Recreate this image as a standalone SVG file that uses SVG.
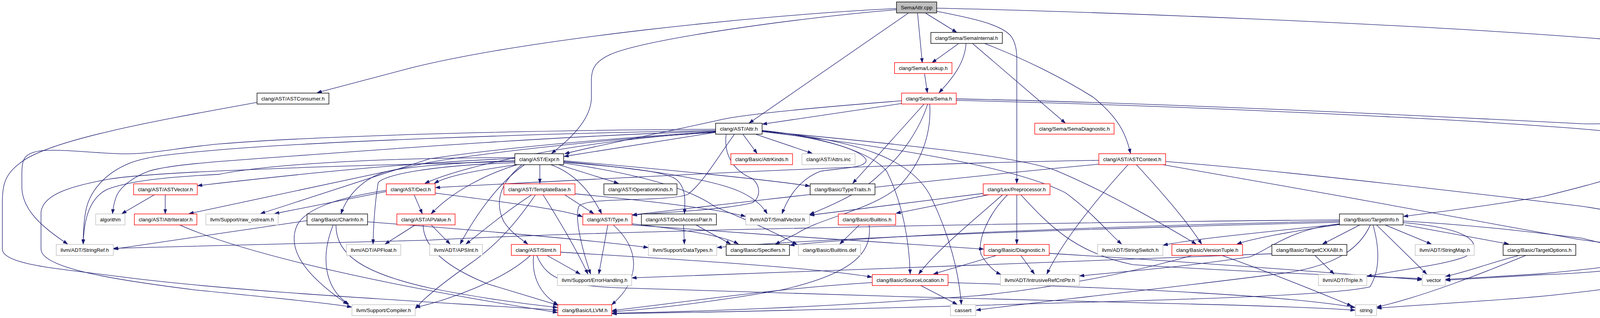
<svg xmlns="http://www.w3.org/2000/svg" width="4501" height="813" viewBox="0 0 4501 813">
<defs>
<marker id="a" markerWidth="12" markerHeight="9" refX="11.5" refY="4.5" orient="auto" markerUnits="userSpaceOnUse"><path d="M0,0.5 L11.5,4.5 L0,8.5 z" fill="#191970" stroke="#191970" stroke-width="1"/></marker>
</defs>
<style>
.bg{fill:#ffffff}
rect{stroke-width:1.4}
.k{fill:#ffffff;stroke:#000000}
.r{fill:#ffffff;stroke:#ff0000}
.g{fill:#ffffff;stroke:#bfbfbf}
.root{fill:#bfbfbf;stroke:#000000}
text{font-family:"Liberation Sans",Arial,sans-serif;font-size:13.5px;fill:#000000;text-anchor:middle}
#edges path{fill:none;stroke:#191970;stroke-width:1.3;marker-end:url(#a)}
</style>
<rect class="bg" x="0" y="0" width="4501" height="813"/>
<g id="edges" transform="scale(1,0.995)">
<path d="M2295,22 C1950,38 1350,100 1050,175 L812,238"/>
<path d="M2295,25 C2050,45 1650,100 1560,141 C1525,158 1514,175 1514,205 L1514,250 C1514,300 1470,350 1412,394"/>
<path d="M2325,34 L1918,316"/>
<path d="M2349,34 L2361,161"/>
<path d="M2370,34 L2449,83"/>
<path d="M2398,29 C2480,45 2565,62 2589,94 C2600,110 2603,130 2603,150 L2603,471"/>
<path d="M2398,21 C2800,30 3600,60 4100,100 C4300,120 4496,150 4496,190 L4496,255 C4496,330 4300,420 3950,505 C3800,530 3660,548 3593,556"/>
<path d="M2454,112 L2386,161"/>
<path d="M2473,112 C2470,160 2440,200 2404,238"/>
<path d="M2490,112 L2727,316"/>
<path d="M2521,112 C2620,150 2720,200 2799,250 C2860,300 2882,340 2894,394"/>
<path d="M2367,190 L2374,238"/>
<path d="M2308,266 L1952,319"/>
<path d="M2308,259 C2000,283 1870,300 1835,310 C1700,340 1500,380 1446,395"/>
<path d="M1832,340 L1444,402"/>
<path d="M2366,267 L2183,471"/>
<path d="M2375,267 C2355,330 2310,400 2250,450 C2200,500 2110,535 2073,551"/>
<path d="M2380,267 C2385,340 2360,420 2300,480 C2230,540 2100,560 2040,600 C2010,615 1995,622 1985,628"/>
<path d="M2448,254 C3000,265 3700,300 4050,318 C4200,322 4350,290 4420,330 C4445,350 4445,380 4445,406 L4445,646 C4445,700 4200,735 3950,761 C3800,775 3600,785 3525,792"/>
<path d="M2448,258 C3000,270 3700,305 3950,324 C4200,340 4394,370 4394,404 L4394,573 C4394,650 4200,680 3950,703 C3850,710 3750,715 3701,718"/>
<path d="M658,263 C400,310 120,360 50,420 C10,450 6,480 6,520 L6,640 C6,680 150,690 300,710 C600,750 1100,775 1427,797"/>
<path d="M1832,332 C1300,335 800,350 560,370 C450,380 380,398 307,395 C220,392 150,382 100,388 C60,395 56,410 56,450 L56,480 C56,540 110,585 173,627"/>
<path d="M1318,405 C1000,405 700,420 560,448 C420,455 330,465 273,487 C230,510 215,560 213,627"/>
<path d="M1832,335 C1300,345 800,365 560,385 C450,395 380,400 330,420 C270,445 230,490 220,540 C214,570 213,600 213,627"/>
<path d="M1832,337 C1400,350 900,390 560,415 C480,422 420,428 380,440 C340,455 310,480 300,500 C293,515 290,530 288,549"/>
<path d="M1318,407 C1000,420 700,455 506,477"/>
<path d="M1832,340 C1500,360 1200,400 1100,417 L484,549"/>
<path d="M1832,338 C1500,360 1250,385 1100,408 L667,549"/>
<path d="M1318,413 C1150,418 1030,430 982,443 C930,460 890,500 873,549"/>
<path d="M1320,418 C1100,425 980,450 968,470 C960,520 956,580 955,627"/>
<path d="M1318,415 C900,425 400,440 281,460 C180,478 110,500 105,545 L105,640 C105,690 300,720 500,745 C700,765 850,780 900,789"/>
<path d="M1832,339 C1500,360 1200,420 1088,471"/>
<path d="M1325,423 C1200,440 1140,455 1112,471"/>
<path d="M1382,423 L1382,471"/>
<path d="M1410,423 C1470,445 1510,490 1540,549"/>
<path d="M1430,423 L1583,471"/>
<path d="M1443,417 C1600,430 1700,440 1730,460 C1755,480 1755,510 1752,549"/>
<path d="M1336,423 C1280,470 1265,520 1290,570 C1310,600 1335,615 1351,627"/>
<path d="M1343,423 C1290,460 1230,530 1178,627"/>
<path d="M1325,423 C1250,445 1160,490 1104,549"/>
<path d="M1443,413 C1700,435 1950,460 2073,478"/>
<path d="M1443,415 C1650,435 1830,460 1900,495 C1940,515 1955,535 1964,549"/>
<path d="M1443,419 C1620,445 1760,480 1830,531 C1900,560 1990,600 2040,628"/>
<path d="M1951,338 C2080,350 2200,380 2217,410 C2222,432 2150,432 2100,440 C2050,460 2020,500 2002,549"/>
<path d="M1902,345 L1938,394"/>
<path d="M1935,345 L2079,394"/>
<path d="M1880,345 C1840,400 1800,470 1760,500 C1700,520 1500,505 1482,530 C1470,560 1490,640 1512,704"/>
<path d="M1859,345 C1852,400 1880,440 1926,459 C1950,480 1945,510 1926,521 C1850,540 1700,545 1619,553"/>
<path d="M1951,335 C2100,350 2230,390 2270,440 C2310,520 2328,620 2330,704"/>
<path d="M1951,336 C2200,360 2330,410 2380,500 C2430,600 2455,700 2461,782"/>
<path d="M1951,337 C2300,370 2600,400 2703,438 C2850,500 3000,590 3062,627"/>
<path d="M1951,338 C2300,380 2600,430 2727,495 C2790,540 2840,600 2871,627"/>
<path d="M1445,500 L1520,549"/>
<path d="M1390,500 C1440,580 1480,650 1505,704"/>
<path d="M1362,500 C1300,540 1240,590 1193,627"/>
<path d="M1371,500 C1330,560 1280,625 1200,680 C1130,730 1080,770 1064,793"/>
<path d="M1472,498 C1700,520 1850,540 1908,556"/>
<path d="M1060,500 L1081,549"/>
<path d="M1114,496 C1300,520 1450,540 1491,557"/>
<path d="M989,492 L703,549"/>
<path d="M989,489 C850,510 780,540 760,580 C730,650 800,720 890,782"/>
<path d="M1104,578 L1152,627"/>
<path d="M1063,578 L986,627"/>
<path d="M1083,578 C1085,640 1150,690 1250,730 C1350,760 1400,775 1428,784"/>
<path d="M786,567 L291,640"/>
<path d="M853,578 C820,660 830,740 893,782"/>
<path d="M860,578 C860,650 920,700 1100,740 C1250,770 1380,785 1427,790"/>
<path d="M941,570 C1200,590 1500,615 1659,636"/>
<path d="M396,500 L312,549"/>
<path d="M423,500 L423,549"/>
<path d="M460,578 C600,640 900,720 1427,803"/>
<path d="M1556,578 L1533,704"/>
<path d="M1570,578 C1640,640 1640,720 1566,783"/>
<path d="M1618,575 C1750,590 1850,605 1890,627"/>
<path d="M1618,578 C1900,600 2300,625 2518,640"/>
<path d="M1750,578 L1752,627"/>
<path d="M1782,578 C1820,600 1850,615 1870,627"/>
<path d="M1400,656 L1485,704"/>
<path d="M1358,656 C1290,720 1150,770 1064,790"/>
<path d="M1366,656 C1360,720 1390,760 1428,783"/>
<path d="M1435,648 C1800,670 2100,690 2232,712"/>
<path d="M1374,656 C1400,720 1450,735 1600,740 C2000,755 2600,770 3000,780 C3300,787 3400,792 3469,797"/>
<path d="M2356,733 L2450,782"/>
<path d="M2233,726 C2000,740 1800,770 1567,798"/>
<path d="M2427,726 C2900,740 3300,760 3469,790"/>
<path d="M2552,656 L2390,704"/>
<path d="M2613,656 L2648,704"/>
<path d="M2686,651 C3000,670 3400,700 3640,719"/>
<path d="M2603,500 L2603,627"/>
<path d="M2533,500 L2294,548"/>
<path d="M2517,497 L2073,553"/>
<path d="M2567,500 C2500,560 2400,640 2352,704"/>
<path d="M2580,500 C2530,550 2500,620 2512,655 C2530,685 2550,700 2562,705"/>
<path d="M2613,500 C2680,573 2750,650 2900,680 C3200,700 3500,710 3640,716"/>
<path d="M2200,578 L2150,627"/>
<path d="M2225,578 C2232,640 2200,700 2000,745 C1800,780 1650,795 1567,801"/>
<path d="M2813,412 C2300,420 1800,445 1115,482"/>
<path d="M2813,422 C2400,460 1900,520 1619,552"/>
<path d="M2888,423 C2800,520 2720,620 2680,704"/>
<path d="M2909,423 C2980,500 3040,570 3076,627"/>
<path d="M2984,415 C3300,440 3800,500 4050,530 C4250,560 4324,600 4324,641 C4324,680 4100,700 3950,706 L3701,720"/>
<path d="M2976,423 C3300,480 3864,580 4040,615 L4108,624"/>
<path d="M3481,578 L3386,627"/>
<path d="M3546,578 L3664,627"/>
<path d="M3596,578 L3862,627"/>
<path d="M3524,578 L3652,704"/>
<path d="M3592,572 C3800,590 3790,640 3750,660 C3700,680 3600,690 3500,710"/>
<path d="M3515,578 C3535,650 3530,700 3507,737 C3450,750 3300,760 3000,770 C2500,785 2000,800 1567,806"/>
<path d="M3508,578 C3480,640 3420,680 3300,700 C3000,740 2700,770 2499,797"/>
<path d="M3592,568 C3800,580 3950,600 4050,612 L4110,627"/>
<path d="M3429,565 C2800,570 1600,590 1100,617 L291,638"/>
<path d="M3429,568 C2900,580 2300,600 2022,630"/>
<path d="M3429,571 C3000,582 2200,605 1836,636"/>
<path d="M3429,575 C3300,590 3250,640 3200,660 C3000,690 2850,700 2764,709"/>
<path d="M3429,577 C3300,595 3200,615 3167,627"/>
<path d="M3429,576 C3200,600 3050,615 2978,630"/>
<path d="M3366,656 L3415,704"/>
<path d="M3256,652 C2800,670 2000,700 1618,714"/>
<path d="M3890,656 C3800,680 3750,700 3701,710"/>
<path d="M3907,656 C3800,700 3650,760 3525,789"/>
<path d="M3053,656 C2900,700 2700,740 2500,760 C2100,790 1800,800 1567,805"/>
<path d="M3127,656 C3250,700 3350,740 3460,786"/>
</g>
<g id="n_SemaAttr"><rect class="root" x="2295" y="5" width="103" height="28"/><text x="2346.5" y="24" textLength="81" lengthAdjust="spacingAndGlyphs">SemaAttr.cpp</text></g>
<g id="n_SemaInternal"><rect class="k" x="2383" y="83" width="183" height="28"/><text x="2474.5" y="102" textLength="161" lengthAdjust="spacingAndGlyphs">clang/Sema/SemaInternal.h</text></g>
<g id="n_Lookup"><rect class="r" x="2290" y="160" width="147" height="28"/><text x="2363.5" y="179" textLength="125" lengthAdjust="spacingAndGlyphs">clang/Sema/Lookup.h</text></g>
<g id="n_ASTConsumer"><rect class="k" x="658" y="238" width="184" height="28"/><text x="750" y="257" textLength="162" lengthAdjust="spacingAndGlyphs">clang/AST/ASTConsumer.h</text></g>
<g id="n_Sema"><rect class="r" x="2308" y="238" width="140" height="28"/><text x="2378" y="257" textLength="118" lengthAdjust="spacingAndGlyphs">clang/Sema/Sema.h</text></g>
<g id="n_Attr"><rect class="k" x="1832" y="315" width="119" height="28"/><text x="1891.5" y="334" textLength="97" lengthAdjust="spacingAndGlyphs">clang/AST/Attr.h</text></g>
<g id="n_SemaDiagnostic"><rect class="r" x="2649" y="315" width="203" height="28"/><text x="2750.5" y="334" textLength="181" lengthAdjust="spacingAndGlyphs">clang/Sema/SemaDiagnostic.h</text></g>
<g id="n_Expr"><rect class="k" x="1318" y="393" width="125" height="28"/><text x="1380.5" y="412" textLength="103" lengthAdjust="spacingAndGlyphs">clang/AST/Expr.h</text></g>
<g id="n_AttrKinds"><rect class="r" x="1871" y="393" width="158" height="28"/><text x="1950" y="412" textLength="136" lengthAdjust="spacingAndGlyphs">clang/Basic/AttrKinds.h</text></g>
<g id="n_Attrsinc"><rect class="g" x="2053" y="393" width="136" height="28"/><text x="2121" y="412" textLength="114" lengthAdjust="spacingAndGlyphs">clang/AST/Attrs.inc</text></g>
<g id="n_ASTContext"><rect class="r" x="2813" y="393" width="171" height="28"/><text x="2898.5" y="412" textLength="149" lengthAdjust="spacingAndGlyphs">clang/AST/ASTContext.h</text></g>
<g id="n_ASTVector"><rect class="r" x="342" y="470" width="163" height="28"/><text x="423.5" y="489" textLength="141" lengthAdjust="spacingAndGlyphs">clang/AST/ASTVector.h</text></g>
<g id="n_Decl"><rect class="r" x="989" y="470" width="125" height="28"/><text x="1051.5" y="489" textLength="103" lengthAdjust="spacingAndGlyphs">clang/AST/Decl.h</text></g>
<g id="n_TemplateBase"><rect class="r" x="1290" y="470" width="182" height="28"/><text x="1381" y="489" textLength="160" lengthAdjust="spacingAndGlyphs">clang/AST/TemplateBase.h</text></g>
<g id="n_OperationKinds"><rect class="k" x="1546" y="470" width="187" height="28"/><text x="1639.5" y="489" textLength="165" lengthAdjust="spacingAndGlyphs">clang/AST/OperationKinds.h</text></g>
<g id="n_TypeTraits"><rect class="k" x="2074" y="470" width="166" height="28"/><text x="2157" y="489" textLength="144" lengthAdjust="spacingAndGlyphs">clang/Basic/TypeTraits.h</text></g>
<g id="n_Preprocessor"><rect class="r" x="2517" y="470" width="171" height="28"/><text x="2602.5" y="489" textLength="149" lengthAdjust="spacingAndGlyphs">clang/Lex/Preprocessor.h</text></g>
<g id="n_algorithm"><rect class="g" x="245" y="547" width="75" height="28"/><text x="282.5" y="566" textLength="53" lengthAdjust="spacingAndGlyphs">algorithm</text></g>
<g id="n_AttrIterator"><rect class="r" x="344" y="547" width="160" height="28"/><text x="424" y="566" textLength="138" lengthAdjust="spacingAndGlyphs">clang/AST/AttrIterator.h</text></g>
<g id="n_raw_ostream"><rect class="g" x="527" y="547" width="185" height="28"/><text x="619.5" y="566" textLength="163" lengthAdjust="spacingAndGlyphs">llvm/Support/raw_ostream.h</text></g>
<g id="n_CharInfo"><rect class="k" x="786" y="547" width="155" height="28"/><text x="863.5" y="566" textLength="133" lengthAdjust="spacingAndGlyphs">clang/Basic/CharInfo.h</text></g>
<g id="n_APValue"><rect class="r" x="1016" y="547" width="149" height="28"/><text x="1090.5" y="566" textLength="127" lengthAdjust="spacingAndGlyphs">clang/AST/APValue.h</text></g>
<g id="n_Type"><rect class="r" x="1492" y="547" width="126" height="28"/><text x="1555" y="566" textLength="104" lengthAdjust="spacingAndGlyphs">clang/AST/Type.h</text></g>
<g id="n_DeclAccessPair"><rect class="k" x="1642" y="547" width="192" height="28"/><text x="1738" y="566" textLength="170" lengthAdjust="spacingAndGlyphs">clang/AST/DeclAccessPair.h</text></g>
<g id="n_SmallVector"><rect class="g" x="1909" y="547" width="163" height="28"/><text x="1990.5" y="566" textLength="141" lengthAdjust="spacingAndGlyphs">llvm/ADT/SmallVector.h</text></g>
<g id="n_Builtins"><rect class="r" x="2146" y="547" width="147" height="28"/><text x="2219.5" y="566" textLength="125" lengthAdjust="spacingAndGlyphs">clang/Basic/Builtins.h</text></g>
<g id="n_TargetInfo"><rect class="k" x="3429" y="547" width="163" height="28"/><text x="3510.5" y="566" textLength="141" lengthAdjust="spacingAndGlyphs">clang/Basic/TargetInfo.h</text></g>
<g id="n_StringRef"><rect class="g" x="144" y="625" width="146" height="28"/><text x="217" y="644" textLength="124" lengthAdjust="spacingAndGlyphs">llvm/ADT/StringRef.h</text></g>
<g id="n_APFloat"><rect class="g" x="887" y="625" width="139" height="28"/><text x="956.5" y="644" textLength="117" lengthAdjust="spacingAndGlyphs">llvm/ADT/APFloat.h</text></g>
<g id="n_APSInt"><rect class="g" x="1100" y="625" width="135" height="28"/><text x="1167.5" y="644" textLength="113" lengthAdjust="spacingAndGlyphs">llvm/ADT/APSInt.h</text></g>
<g id="n_Stmt"><rect class="r" x="1309" y="625" width="126" height="28"/><text x="1372" y="644" textLength="104" lengthAdjust="spacingAndGlyphs">clang/AST/Stmt.h</text></g>
<g id="n_DataTypes"><rect class="g" x="1660" y="625" width="175" height="28"/><text x="1747.5" y="644" textLength="153" lengthAdjust="spacingAndGlyphs">llvm/Support/DataTypes.h</text></g>
<g id="n_Specifiers"><rect class="k" x="1859" y="625" width="162" height="28"/><text x="1940" y="644" textLength="140" lengthAdjust="spacingAndGlyphs">clang/Basic/Specifiers.h</text></g>
<g id="n_Builtinsdef"><rect class="g" x="2044" y="625" width="159" height="28"/><text x="2123.5" y="644" textLength="137" lengthAdjust="spacingAndGlyphs">clang/Basic/Builtins.def</text></g>
<g id="n_Diagnostic"><rect class="r" x="2519" y="625" width="167" height="28"/><text x="2602.5" y="644" textLength="145" lengthAdjust="spacingAndGlyphs">clang/Basic/Diagnostic.h</text></g>
<g id="n_StringSwitch"><rect class="g" x="2810" y="625" width="167" height="28"/><text x="2893.5" y="644" textLength="145" lengthAdjust="spacingAndGlyphs">llvm/ADT/StringSwitch.h</text></g>
<g id="n_VersionTuple"><rect class="r" x="3000" y="625" width="181" height="28"/><text x="3090.5" y="644" textLength="159" lengthAdjust="spacingAndGlyphs">clang/Basic/VersionTuple.h</text></g>
<g id="n_TargetCXXABI"><rect class="k" x="3256" y="625" width="192" height="28"/><text x="3352" y="644" textLength="170" lengthAdjust="spacingAndGlyphs">clang/Basic/TargetCXXABI.h</text></g>
<g id="n_StringMap"><rect class="g" x="3623" y="625" width="151" height="28"/><text x="3698.5" y="644" textLength="129" lengthAdjust="spacingAndGlyphs">llvm/ADT/StringMap.h</text></g>
<g id="n_TargetOptions"><rect class="k" x="3848" y="625" width="186" height="28"/><text x="3941" y="644" textLength="164" lengthAdjust="spacingAndGlyphs">clang/Basic/TargetOptions.h</text></g>
<g id="n_AddressSpaces"><rect class="k" x="4109" y="625" width="198" height="28"/><text x="4208" y="644" textLength="176" lengthAdjust="spacingAndGlyphs">clang/Basic/AddressSpaces.h</text></g>
<g id="n_ErrorHandling"><rect class="g" x="1427" y="702" width="190" height="28"/><text x="1522" y="721" textLength="168" lengthAdjust="spacingAndGlyphs">llvm/Support/ErrorHandling.h</text></g>
<g id="n_SourceLocation"><rect class="r" x="2233" y="702" width="194" height="28"/><text x="2330" y="721" textLength="172" lengthAdjust="spacingAndGlyphs">clang/Basic/SourceLocation.h</text></g>
<g id="n_IntrusiveRefCntPtr"><rect class="g" x="2561" y="702" width="202" height="28"/><text x="2662" y="721" textLength="180" lengthAdjust="spacingAndGlyphs">llvm/ADT/IntrusiveRefCntPtr.h</text></g>
<g id="n_Triple"><rect class="g" x="3375" y="702" width="124" height="28"/><text x="3437" y="721" textLength="102" lengthAdjust="spacingAndGlyphs">llvm/ADT/Triple.h</text></g>
<g id="n_vector"><rect class="g" x="3641" y="702" width="59" height="28"/><text x="3670.5" y="721" textLength="37" lengthAdjust="spacingAndGlyphs">vector</text></g>
<g id="n_Compiler"><rect class="g" x="901" y="779" width="162" height="28"/><text x="982" y="798" textLength="140" lengthAdjust="spacingAndGlyphs">llvm/Support/Compiler.h</text></g>
<g id="n_LLVM"><rect class="r" x="1428" y="779" width="138" height="28"/><text x="1497" y="798" textLength="116" lengthAdjust="spacingAndGlyphs">clang/Basic/LLVM.h</text></g>
<g id="n_cassert"><rect class="g" x="2433" y="779" width="65" height="28"/><text x="2465.5" y="798" textLength="43" lengthAdjust="spacingAndGlyphs">cassert</text></g>
<g id="n_string"><rect class="g" x="3470" y="779" width="54" height="28"/><text x="3497" y="798" textLength="33" lengthAdjust="spacingAndGlyphs">string</text></g>
</svg>
